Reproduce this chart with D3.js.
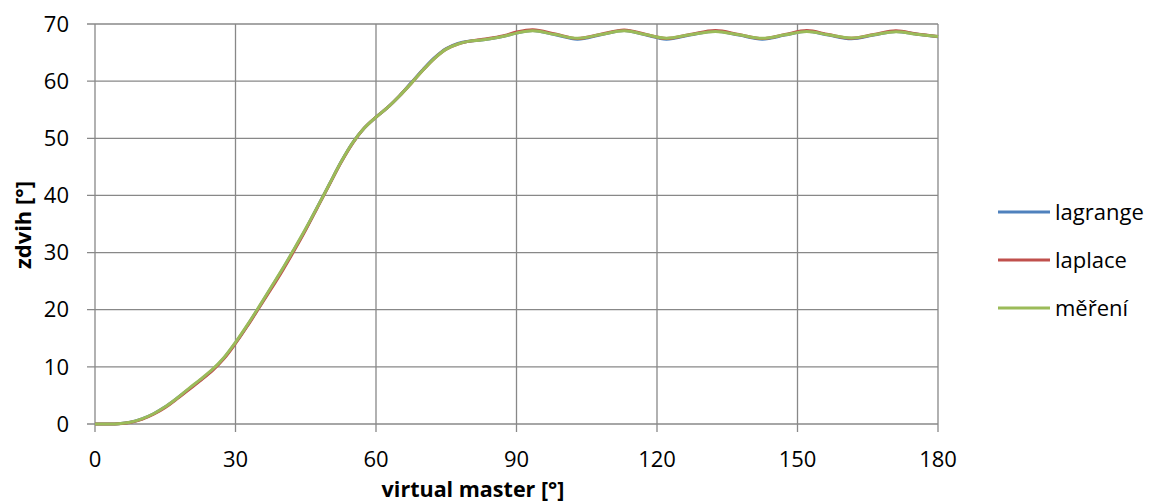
<!DOCTYPE html>
<html><head><meta charset="utf-8">
<script src="https://cdn.jsdelivr.net/npm/d3@7"></script>
<style>body{margin:0;background:#fff}svg{display:block}</style>
</head><body>
<svg id="c" width="1151" height="504"></svg>
<script>
const angles = [0,2.5,5,7.5,10,12.5,15,17.5,20,22.5,25,27.5,30,32.5,35,37.5,40,42.5,45,47.5,50,52.5,55,57.5,60,62.5,65,67.5,70,72.5,75,77.5,80,82.5,85,87.5,90,93.5,98.3,103,108,113,117.5,122,127,132.5,137.5,142.5,147.3,152,156.6,161.5,166.3,171,175.5,180];
const lagrange = [0,0,0.05,0.3,0.9,1.8,3.0,4.5,6.1,7.7,9.4,11.5,14.2,17.2,20.4,23.7,27.0,30.5,34.1,38.0,41.9,45.8,49.2,51.8,53.7,55.4,57.4,59.7,62.0,64.1,65.7,66.6,67.0,67.2,67.5,67.9,68.4,68.85,68.1,67.35,68.1,68.85,68.1,67.35,68.05,68.75,68.05,67.35,68.05,68.75,68.05,67.4,68.05,68.7,68.2,67.75];
const laplace = [0,0,0.04,0.25,0.8,1.7,2.9,4.4,6.0,7.6,9.3,11.4,14.1,17.1,20.3,23.5,26.8,30.3,34.0,37.9,41.8,45.7,49.1,51.8,53.7,55.4,57.4,59.6,61.9,64.0,65.6,66.5,67.0,67.3,67.6,68.0,68.6,69.0,68.25,67.45,68.2,68.95,68.2,67.45,68.15,68.85,68.15,67.45,68.15,68.85,68.15,67.5,68.15,68.8,68.25,67.8];
const mereni = [0,0,0.05,0.3,0.9,1.8,3.0,4.5,6.2,7.8,9.5,11.6,14.3,17.3,20.5,23.8,27.1,30.6,34.2,38.0,41.9,45.8,49.2,51.8,53.7,55.4,57.4,59.6,61.9,64.0,65.6,66.5,67.0,67.2,67.5,67.9,68.4,68.8,68.15,67.5,68.15,68.8,68.15,67.5,68.1,68.7,68.1,67.5,68.1,68.7,68.1,67.55,68.1,68.65,68.2,67.8];
const xTicks = [0,30,60,90,120,150,180];
const yTicks = [0,10,20,30,40,50,60,70];
const seriesNames = ["lagrange","laplace","měření"];
const seriesColors = ["#4F81BD","#C0504D","#9BBB59"];
const seriesData = [lagrange, laplace, mereni];

const svg = d3.select("#c");
const font = "'Open Sans', sans-serif";
const x = d3.scaleLinear().domain([0,180]).range([95,938]);
const y = d3.scaleLinear().domain([0,70]).range([424,24]);
const grid = "#888888";

// gridlines
svg.append("g").selectAll("line").data(yTicks).join("line")
  .attr("x1",87).attr("x2",938).attr("y1",d=>y(d)).attr("y2",d=>y(d))
  .attr("stroke",grid).attr("stroke-width",1.3);
svg.append("g").selectAll("line").data(xTicks).join("line")
  .attr("x1",d=>x(d)).attr("x2",d=>x(d)).attr("y1",24).attr("y2",432)
  .attr("stroke",grid).attr("stroke-width",1.3);

// tick labels
svg.append("g").selectAll("text").data(yTicks).join("text")
  .attr("x",69).attr("y",d=>y(d)).attr("dy","0.35em").attr("text-anchor","end")
  .attr("font-family",font).attr("font-size",22).attr("fill","#000").text(d=>d);
svg.append("g").selectAll("text").data(xTicks).join("text")
  .attr("x",d=>x(d)).attr("y",459).attr("dy","0.35em").attr("text-anchor","middle")
  .attr("font-family",font).attr("font-size",22).attr("fill","#000").text(d=>d);

// axis titles
svg.append("text").attr("transform","translate(23,225) rotate(-90)")
  .attr("dy","0.35em").attr("text-anchor","middle").attr("font-family",font)
  .attr("font-weight","bold").attr("font-size",22).text("zdvih [°]");
svg.append("text").attr("x",473).attr("y",497)
  .attr("text-anchor","middle").attr("font-family",font)
  .attr("font-weight","bold").attr("font-size",21.5).text("virtual master [°]");

// lines
const line = d3.line().x((d,i)=>x(angles[i])).y(d=>y(d)).curve(d3.curveCatmullRom.alpha(0.5));
seriesData.forEach((s,k)=>{
  svg.append("path").attr("d",line(s)).attr("fill","none")
    .attr("stroke",seriesColors[k]).attr("stroke-width",3).attr("stroke-linejoin","round");
});

// legend
const lg = svg.append("g");
seriesNames.forEach((n,k)=>{
  const yy = 212 + k*48;
  lg.append("line").attr("x1",998).attr("x2",1050).attr("y1",yy).attr("y2",yy)
    .attr("stroke",seriesColors[k]).attr("stroke-width",3);
  lg.append("text").attr("x",1055).attr("y",yy).attr("dy","0.35em")
    .attr("font-family",font).attr("font-size",22).attr("fill","#000").text(n);
});
</script>
</body></html>
